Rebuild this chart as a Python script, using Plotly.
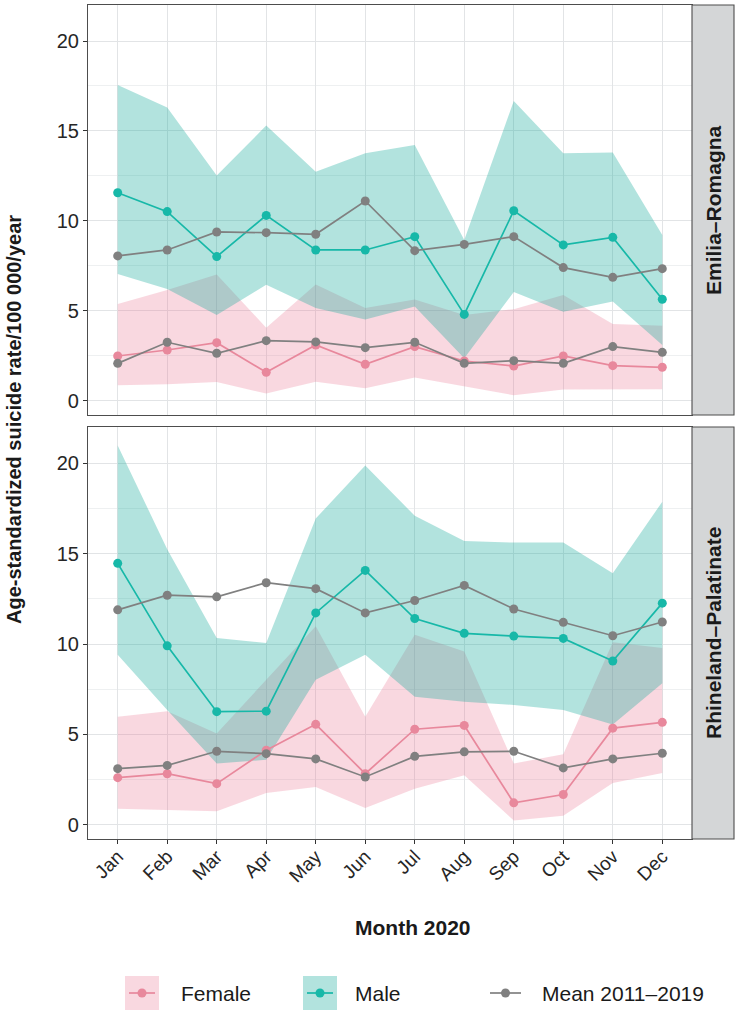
import plotly.graph_objects as go
from plotly.subplots import make_subplots

months = ["Jan", "Feb", "Mar", "Apr", "May", "Jun", "Jul", "Aug", "Sep", "Oct", "Nov", "Dec"]

# Emilia-Romagna
er_female = [2.50, 2.83, 3.24, 1.59, 3.11, 2.04, 3.02, 2.22, 1.94, 2.50, 1.96, 1.87]
er_female_lo = [0.87, 0.93, 1.06, 0.41, 1.07, 0.70, 1.31, 0.80, 0.32, 0.63, 0.65, 0.65]
er_female_hi = [5.39, 6.17, 7.03, 4.07, 6.47, 5.17, 5.64, 4.78, 5.10, 5.89, 4.28, 4.18]
er_male = [11.57, 10.52, 8.02, 10.31, 8.39, 8.39, 9.13, 4.81, 10.57, 8.67, 9.09, 5.65]
er_male_lo = [7.06, 6.22, 4.78, 6.46, 5.17, 4.52, 5.25, 2.37, 6.05, 4.96, 5.52, 3.11]
er_male_hi = [17.56, 16.31, 12.52, 15.30, 12.74, 13.76, 14.22, 8.94, 16.67, 13.76, 13.81, 9.22]
er_mean_male = [8.06, 8.39, 9.39, 9.35, 9.26, 11.11, 8.35, 8.70, 9.13, 7.41, 6.87, 7.35]
er_mean_female = [2.09, 3.26, 2.65, 3.35, 3.28, 2.96, 3.26, 2.09, 2.24, 2.09, 3.02, 2.70]

# Rhineland-Palatinate
rp_female = [2.61, 2.83, 2.28, 4.13, 5.56, 2.83, 5.29, 5.50, 1.22, 1.68, 5.35, 5.67]
rp_female_lo = [0.89, 0.83, 0.76, 1.76, 2.09, 0.94, 2.00, 2.74, 0.24, 0.50, 2.31, 2.87]
rp_female_hi = [5.98, 6.29, 5.06, 8.00, 10.98, 5.98, 10.52, 9.59, 3.39, 3.91, 10.10, 9.78]
rp_male = [14.46, 9.90, 6.26, 6.29, 11.72, 14.07, 11.41, 10.59, 10.44, 10.31, 9.06, 12.26]
rp_male_lo = [9.41, 6.35, 3.39, 3.60, 8.02, 9.41, 7.09, 6.81, 6.63, 6.35, 5.55, 7.83]
rp_male_hi = [20.98, 15.24, 10.33, 10.06, 16.94, 19.87, 17.09, 15.70, 15.61, 15.61, 13.91, 17.87]
rp_mean_male = [11.89, 12.70, 12.61, 13.39, 13.06, 11.72, 12.41, 13.24, 11.94, 11.20, 10.46, 11.22]
rp_mean_female = [3.11, 3.29, 4.07, 3.94, 3.65, 2.65, 3.79, 4.04, 4.07, 3.15, 3.65, 3.96]

regions = ["Emilia–Romagna", "Rhineland–Palatinate"]
legend_labels = ["Female", "Male", "Mean 2011–2019"]
y_title = "Age-standardized suicide rate/100 000/year"
x_title = "Month 2020"

FEMALE_LINE = "#E8889C"
MALE_LINE = "#17B8A8"
MEAN_LINE = "#808080"
FEMALE_FILL = "rgba(232,112,142,0.27)"
MALE_FILL = "rgba(22,170,156,0.33)"
FONT = "Liberation Sans, Arial, sans-serif"

W, H = 739, 1013
ML, MR, MT, MB = 88, 47, 5, 174
PW = W - ML - MR
PH = H - MT - MB


def px(X):
    return (X - ML) / PW


def py(Y):
    return (H - MB - Y) / PH


fig = make_subplots(rows=2, cols=1, shared_xaxes=False, vertical_spacing=0.0)

panels = [
    (er_female, er_female_lo, er_female_hi, er_male, er_male_lo, er_male_hi, er_mean_male, er_mean_female),
    (rp_female, rp_female_lo, rp_female_hi, rp_male, rp_male_lo, rp_male_hi, rp_mean_male, rp_mean_female),
]

for i, (f, flo, fhi, m, mlo, mhi, mm, mf) in enumerate(panels):
    r = i + 1
    # ribbons
    fig.add_trace(go.Scatter(x=months, y=flo, mode="lines", line=dict(width=0, color=FEMALE_FILL),
                             showlegend=False, hoverinfo="skip"), row=r, col=1)
    fig.add_trace(go.Scatter(x=months, y=fhi, mode="lines", line=dict(width=0, color=FEMALE_FILL),
                             fill="tonexty", fillcolor=FEMALE_FILL, showlegend=False, hoverinfo="skip"), row=r, col=1)
    fig.add_trace(go.Scatter(x=months, y=mlo, mode="lines", line=dict(width=0, color=MALE_FILL),
                             showlegend=False, hoverinfo="skip"), row=r, col=1)
    fig.add_trace(go.Scatter(x=months, y=mhi, mode="lines", line=dict(width=0, color=MALE_FILL),
                             fill="tonexty", fillcolor=MALE_FILL, showlegend=False, hoverinfo="skip"), row=r, col=1)
    # lines
    fig.add_trace(go.Scatter(x=months, y=f, mode="lines+markers", line=dict(width=1.7, color=FEMALE_LINE),
                             marker=dict(size=9, color=FEMALE_LINE), name=legend_labels[0], showlegend=False),
                  row=r, col=1)
    fig.add_trace(go.Scatter(x=months, y=m, mode="lines+markers", line=dict(width=1.7, color=MALE_LINE),
                             marker=dict(size=9, color=MALE_LINE), name=legend_labels[1], showlegend=False),
                  row=r, col=1)
    for series in (mm, mf):
        fig.add_trace(go.Scatter(x=months, y=series, mode="lines+markers", line=dict(width=1.7, color=MEAN_LINE),
                                 marker=dict(size=9, color=MEAN_LINE), name=legend_labels[2], showlegend=False),
                      row=r, col=1)

# domains
top_dom = [py(415), py(5)]
bot_dom = [py(839), py(427)]
fig.update_layout(
    yaxis=dict(domain=top_dom),
    yaxis2=dict(domain=bot_dom),
)

axis_common = dict(showline=True, mirror=True, linecolor="#4d4d4d", linewidth=1.1,
                   showgrid=True, gridcolor="#E2E4E6", gridwidth=1.4, zeroline=False)

for r in (1, 2):
    fig.update_yaxes(range=[-0.78, 22.0], tickvals=[0, 5, 10, 15, 20], ticks="outside", ticklen=4,
                     tickcolor="#333333", tickwidth=1,
                     tickfont=dict(family=FONT, size=20, color="#262626"),
                     minor=dict(dtick=2.5, tick0=0, showgrid=True, gridcolor="#EEF0F1", gridwidth=0.9),
                     row=r, col=1, **axis_common)
    fig.update_xaxes(range=[-0.6, 11.6], categoryorder="array", categoryarray=months,
                     row=r, col=1, **axis_common)

fig.update_xaxes(showticklabels=False, ticks="", row=1, col=1)
fig.update_xaxes(ticks="outside", ticklen=4, tickcolor="#333333", tickwidth=1, tickangle=-45,
                 ticklabelstandoff=-6,
                 tickfont=dict(family=FONT, size=19, color="#262626"), row=2, col=1)

shapes = []
annotations = []

# strips
strip_x0, strip_x1 = px(692), px(734)
for (y0, y1), label in zip([(415, 5), (839, 427)], regions):
    shapes.append(dict(type="rect", xref="paper", yref="paper", x0=strip_x0, x1=strip_x1,
                       y0=py(y0), y1=py(y1), fillcolor="#D4D6D7", line=dict(color="#4d4d4d", width=1.1),
                       layer="above"))
    annotations.append(dict(text=label, xref="paper", yref="paper", x=(strip_x0 + strip_x1) / 2,
                            y=(py(y0) + py(y1)) / 2, textangle=-90, showarrow=False,
                            font=dict(family=FONT, size=21, color="#1a1a1a", weight="bold"),
                            xanchor="center", yanchor="middle"))

# axis titles
annotations.append(dict(text=y_title, xref="paper", yref="paper", x=px(14), y=py(420), textangle=-90,
                        showarrow=False, xanchor="center", yanchor="middle",
                        font=dict(family=FONT, size=20, color="#1a1a1a", weight="bold")))
annotations.append(dict(text=x_title, xref="paper", yref="paper", x=px(413), y=py(927),
                        showarrow=False, xanchor="center", yanchor="middle",
                        font=dict(family=FONT, size=21, color="#1a1a1a", weight="bold")))

# legend (manual, ggplot style keys)
LY = 993
rx = 4.5 / PW
ry = 4.5 / PH
keys = [
    (125, 159, FEMALE_FILL, FEMALE_LINE, 179, legend_labels[0]),
    (303, 337, MALE_FILL, MALE_LINE, 353, legend_labels[1]),
    (490, 521, None, MEAN_LINE, 540, legend_labels[2]),
]
for x0, x1, fill, col, tx, label in keys:
    if fill is not None:
        shapes.append(dict(type="rect", xref="paper", yref="paper", x0=px(x0), x1=px(x1),
                           y0=py(LY + 17), y1=py(LY - 17), fillcolor=fill, line=dict(width=0)))
        lx0, lx1 = x0 + 4, x1 - 4
    else:
        lx0, lx1 = x0, x1
    shapes.append(dict(type="line", xref="paper", yref="paper", x0=px(lx0), x1=px(lx1),
                       y0=py(LY), y1=py(LY), line=dict(color=col, width=1.7)))
    cx = (x0 + x1) / 2
    shapes.append(dict(type="circle", xref="paper", yref="paper", x0=px(cx) - rx, x1=px(cx) + rx,
                       y0=py(LY) - ry, y1=py(LY) + ry, fillcolor=col, line=dict(width=0)))
    annotations.append(dict(text=label, xref="paper", yref="paper", x=px(tx), y=py(LY),
                            showarrow=False, xanchor="left", yanchor="middle",
                            font=dict(family=FONT, size=21, color="#1a1a1a")))

fig.update_layout(
    width=W, height=H,
    margin=dict(l=ML, r=MR, t=MT, b=MB, autoexpand=False),
    paper_bgcolor="white", plot_bgcolor="white",
    showlegend=False,
    shapes=shapes, annotations=annotations,
    font=dict(family=FONT),
)

fig.write_html("out.html", config={"displayModeBar": False},
               post_script="document.body.style.margin='0px';document.body.style.padding='0px';")
